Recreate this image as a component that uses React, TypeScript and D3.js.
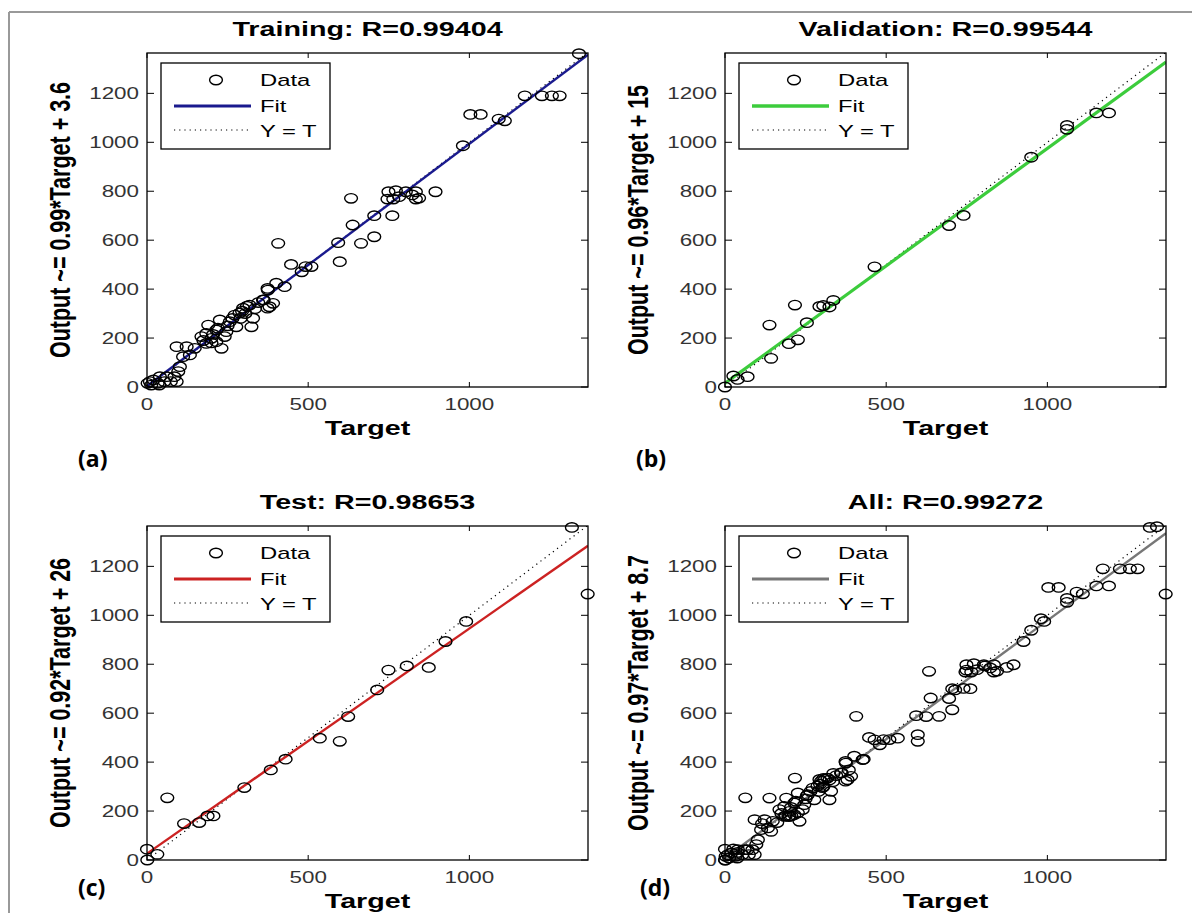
import * as d3 from 'd3';

// training subset (target, output)
const trainingTarget = [1340, 1172, 1225, 1256, 1280, 1003, 1035, 1091, 1110, 980, 633, 895, 749, 772, 803, 834, 746, 764, 782, 834, 844, 823, 705, 761, 638, 705, 664, 593, 598, 407, 447, 492, 510, 480, 401, 427, 375, 380, 360, 318, 298, 287, 329, 324, 272, 257, 277, 226, 190, 215, 184, 200, 215, 241, 246, 231, 184, 169, 92, 123, 133, 148, 112, 102, 97, 92, 61, 40, 20, 9, 13, 33, 54, 74, 85, 2, 38, 374, 362, 374, 391, 205, 220, 250, 265, 295, 305, 310, 335, 345, 290, 200, 175];
const trainingOutput = [1362, 1190, 1190, 1190, 1190, 1114, 1114, 1095, 1088, 986, 771, 798, 798, 802, 798, 798, 768, 768, 778, 768, 772, 785, 700, 700, 662, 614, 587, 590, 512, 587, 501, 492, 492, 471, 424, 410, 396, 328, 356, 335, 322, 302, 281, 246, 294, 267, 246, 274, 253, 233, 219, 199, 185, 206, 226, 158, 178, 206, 165, 165, 131, 158, 124, 83, 63, 22, 42, 42, 29, 22, 8, 15, 22, 22, 42, 15, 8, 403, 356, 322, 342, 215, 240, 250, 280, 310, 300, 330, 320, 345, 280, 180, 190];

const validationTarget = [1152, 1191, 1061, 1061, 950, 695, 740, 464, 217, 138, 143, 198, 226, 254, 293, 305, 324, 336, 26, 39, 70, 0];
const validationOutput = [1120, 1120, 1069, 1053, 939, 660, 701, 491, 335, 253, 117, 177, 193, 263, 329, 333, 327, 354, 45, 31, 42, 0];

const testTarget = [1318, 1367, 990, 926, 749, 806, 874, 714, 624, 536, 598, 430, 384, 302, 63, 115, 162, 188, 206, 0, 32, 1];
const testOutput = [1359, 1087, 975, 893, 776, 793, 787, 695, 586, 498, 485, 412, 368, 296, 254, 149, 153, 180, 180, 44, 23, 0];

// "All" is just the three subsets together
const allTarget = [...trainingTarget, ...validationTarget, ...testTarget];
const allOutput = [...trainingOutput, ...validationOutput, ...testOutput];

const xTicks = [0, 500, 1000];
const yTicks = [0, 200, 400, 600, 800, 1000, 1200];
const legendLabels = ['Data', 'Fit', 'Y = T'];

const W = 441, H = 334;
const SX = 1.4; // picture is stretched sideways
const FONT = '"Liberation Sans", Arial, Helvetica, sans-serif';

interface PanelProps {
    left: number
    top: number
    title: string
    yLabel: string
    slope: number
    intercept: number
    color: string
    lineWidth: number
    targets: number[]
    outputs: number[]
}

const SText = (p: {x: number, y: number, size: number, bold?: boolean, anchor?: string, rotate?: boolean, fill?: string, children: any}) => (
    <text transform={`translate(${p.x},${p.y}) scale(${SX},1)${p.rotate ? ' rotate(-90)' : ''}`}
        textAnchor={p.anchor ?? 'start'} fontSize={p.size} fontWeight={p.bold ? 'bold' : 'normal'}
        fontFamily={FONT} fill={p.fill ?? '#000'}>{p.children}</text>
)

const Panel = (props: PanelProps) => {
    const x = d3.scaleLinear().domain([0, 1368]).range([props.left, props.left + W]);
    const y = d3.scaleLinear().domain([0, 1365]).range([props.top + H, props.top]);
    const clipId = `clip-${props.left}-${props.top}`;

    const fitLine = d3.line<number>()
        .x(d => x(d))
        .y(d => y(props.slope * d + props.intercept));
    const idLine = d3.line<number>().x(d => x(d)).y(d => y(d));

    const lx = props.left + 14, ly = props.top + 10;

    return (
        <g>
            <defs>
                <clipPath id={clipId}><rect x={props.left} y={props.top} width={W} height={H} /></clipPath>
            </defs>
            <rect x={props.left} y={props.top} width={W} height={H} fill="#fff" />
            <g clipPath={`url(#${clipId})`}>
                <path d={idLine([0, 1368]) ?? ''} stroke="#000" strokeWidth={1.2} strokeDasharray="1.2 4" fill="none" />
                <path d={fitLine([0, 1368]) ?? ''} stroke={props.color} strokeWidth={props.lineWidth} fill="none" />
            </g>
            {props.targets.map((t, i) => (
                <ellipse key={i} cx={x(t)} cy={y(props.outputs[i])} rx={6.4} ry={4.7} fill="none" stroke="#000" strokeWidth={1.4} />
            ))}
            {/* ticks */}
            {xTicks.map(t => (
                <g key={'x' + t}>
                    <line x1={x(t)} x2={x(t)} y1={props.top + H} y2={props.top + H - 5} stroke="#000" />
                    <line x1={x(t)} x2={x(t)} y1={props.top} y2={props.top + 5} stroke="#000" />
                    <SText x={x(t)} y={props.top + H + 23} size={16} anchor="middle" fill="#333">{t}</SText>
                </g>
            ))}
            {yTicks.map(t => (
                <g key={'y' + t}>
                    <line x1={props.left} x2={props.left + 7} y1={y(t)} y2={y(t)} stroke="#000" />
                    <line x1={props.left + W} x2={props.left + W - 7} y1={y(t)} y2={y(t)} stroke="#000" />
                    <SText x={props.left - 8} y={y(t) + 6} size={16} anchor="end" fill="#333">{t}</SText>
                </g>
            ))}
            <rect x={props.left} y={props.top} width={W} height={H} fill="none" stroke="#000" strokeWidth={1.3} />

            <SText x={props.left + W / 2} y={props.top - 17} size={20.5} bold anchor="middle">{props.title}</SText>
            <SText x={props.left + W / 2} y={props.top + H + 48} size={20.5} bold anchor="middle">Target</SText>
            <SText x={props.left - 77} y={props.top + H / 2} size={21.5} bold anchor="middle" rotate>{props.yLabel}</SText>

            {/* legend */}
            <rect x={lx} y={ly} width={169} height={86} fill="#fff" stroke="#000" strokeWidth={1.3} />
            <ellipse cx={lx + 55} cy={ly + 17} rx={6.4} ry={4.7} fill="none" stroke="#000" strokeWidth={1.4} />
            <line x1={lx + 13} x2={lx + 90} y1={ly + 43} y2={ly + 43} stroke={props.color} strokeWidth={props.lineWidth + 0.4} />
            <line x1={lx + 13} x2={lx + 90} y1={ly + 67} y2={ly + 67} stroke="#000" strokeWidth={1.2} strokeDasharray="1.2 4" />
            {legendLabels.map((l, i) => (
                <SText key={l} x={lx + 99} y={ly + 23 + i * 25.5} size={17}>{l}</SText>
            ))}
        </g>
    )
}

const panels: PanelProps[] = [
    {left: 147, top: 53, title: 'Training: R=0.99404', yLabel: 'Output ~= 0.99*Target + 3.6', slope: 0.99, intercept: 3.6, color: '#1a1a8e', lineWidth: 2.4, targets: trainingTarget, outputs: trainingOutput},
    {left: 725, top: 53, title: 'Validation: R=0.99544', yLabel: 'Output ~= 0.96*Target + 15', slope: 0.96, intercept: 15, color: '#3ccc3c', lineWidth: 3.2, targets: validationTarget, outputs: validationOutput},
    {left: 147, top: 526, title: 'Test: R=0.98653', yLabel: 'Output ~= 0.92*Target + 26', slope: 0.92, intercept: 26, color: '#cc2222', lineWidth: 2.4, targets: testTarget, outputs: testOutput},
    {left: 725, top: 526, title: 'All: R=0.99272', yLabel: 'Output ~= 0.97*Target + 8.7', slope: 0.97, intercept: 8.7, color: '#777777', lineWidth: 2.4, targets: allTarget, outputs: allOutput},
]

const tags = [
    {label: '(a)', x: 78, y: 467},
    {label: '(b)', x: 636, y: 467},
    {label: '(c)', x: 78, y: 896},
    {label: '(d)', x: 640, y: 896},
]

const App = () => {
    return (
        <svg width={1192} height={913} style={{position: 'absolute', left: 0, top: 0, display: 'block'}}>
            <rect width={1192} height={913} fill="#fff" />
            <line x1={9} x2={1192} y1={12} y2={12} stroke="#999" strokeWidth={2} />
            <line x1={9} x2={9} y1={12} y2={913} stroke="#999" strokeWidth={2} />
            {panels.map(p => <Panel key={p.title} {...p} />)}
            {tags.map(t => (
                <text key={t.label} x={t.x} y={t.y} fontSize={23} fontWeight="bold" fontFamily='"Open Sans", sans-serif'>{t.label}</text>
            ))}
        </svg>
    )
}

export default App
